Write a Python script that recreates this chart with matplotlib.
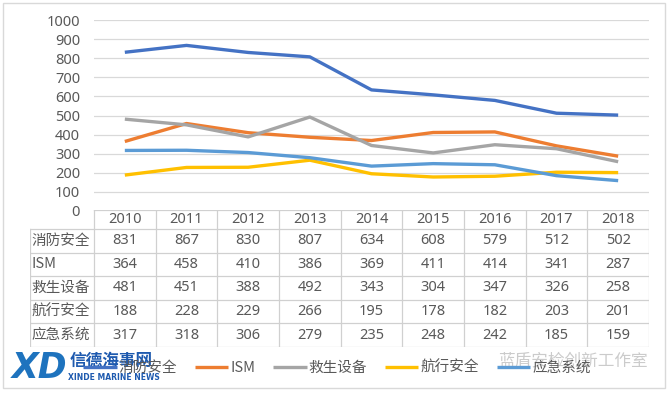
import matplotlib
matplotlib.use("Agg")
import matplotlib.pyplot as plt
from matplotlib.patches import Rectangle
from matplotlib.lines import Line2D

plt.rcParams['font.family'] = ['Noto Sans CJK SC', 'DejaVu Sans']

years = ['2010', '2011', '2012', '2013', '2014', '2015', '2016', '2017', '2018']
series_names = ['消防安全', 'ISM', '救生设备', '航行安全', '应急系统']
fire = [831, 867, 830, 807, 634, 608, 579, 512, 502]
ism = [364, 458, 410, 386, 369, 411, 414, 341, 287]
lifesaving = [481, 451, 388, 492, 343, 304, 347, 326, 258]
navigation = [188, 228, 229, 266, 195, 178, 182, 203, 201]
emergency = [317, 318, 306, 279, 235, 248, 242, 185, 159]
series_values = [fire, ism, lifesaving, navigation, emergency]
colors = ['#4472C4', '#ED7D31', '#A5A5A5', '#FFC000', '#5B9BD5']
yticks = [0, 100, 200, 300, 400, 500, 600, 700, 800, 900, 1000]

W, H = 670, 393
fig = plt.figure(figsize=(W / 100, H / 100), dpi=100)
TXT = '#595959'
GRID = '#D9D9D9'
FS = 10.5
NUMFONT = ['Noto Sans', 'DejaVu Sans']

def fx(px):
    return px / W

def fy(py):
    return 1 - py / H

# outer border
fig.patches.append(Rectangle((fx(3), fy(388)), fx(665) - fx(3), fy(3) - fy(388),
                             transform=fig.transFigure, fill=False,
                             edgecolor='#D9D9D9', lw=1.0))

# main plot
x_left, x_right = 94, 649
ax = fig.add_axes([fx(x_left), fy(211), fx(x_right) - fx(x_left), fy(20) - fy(211)])
n = len(years)
xs = list(range(n))
for name, vals, c in zip(series_names, series_values, colors):
    ax.plot(xs, vals, color=c, lw=2.4, solid_capstyle='butt', label=name)
ax.set_xlim(-0.5, n - 0.5)
ax.set_ylim(0, 1000)
ax.set_yticks(yticks)
ax.set_yticklabels([str(v) for v in yticks], family=NUMFONT)
ax.set_xticks([])
ax.tick_params(axis='y', length=0, pad=10, labelsize=FS, labelcolor=TXT)
for s in ax.spines.values():
    s.set_visible(False)
ax.grid(axis='y', color=GRID, lw=0.9)
ax.set_axisbelow(True)
ax.patch.set_alpha(0)

# data table
label_w = 64 / ((x_right - x_left) / n)
tab = fig.add_axes([fx(30), fy(347), fx(x_right) - fx(30), fy(210) - fy(347)])
hdr = 0.805
nrows = len(series_names)
tab.set_xlim(-0.5 - label_w, n - 0.5)
tab.set_ylim(hdr + nrows, 0)
tab.axis('off')
lc = '#D0D0D0'
lw = 0.9
tab.plot([-0.5, n - 0.5], [0, 0], color=lc, lw=lw)
for k in range(nrows + 1):
    yk = hdr + k
    tab.plot([-0.5 - label_w, n - 0.5], [yk, yk], color=lc, lw=lw)
tab.plot([-0.5 - label_w, -0.5 - label_w], [hdr, hdr + nrows], color=lc, lw=lw)
for i in range(n + 1):
    tab.plot([i - 0.5, i - 0.5], [0, hdr + nrows], color=lc, lw=lw)
for i, yr in enumerate(years):
    tab.text(i, hdr / 2, yr, ha='center', va='center', fontsize=FS, color=TXT,
             family=NUMFONT)
for k, (name, vals) in enumerate(zip(series_names, series_values)):
    yc = hdr + k + 0.5
    tab.text(-0.5 - label_w + 0.03, yc, name, ha='left', va='center', fontsize=FS,
             color=TXT)
    for i, v in enumerate(vals):
        tab.text(i, yc, str(v), ha='center', va='center', fontsize=FS, color=TXT,
                 family=NUMFONT)

# legend
handles = [Line2D([], [], color=c, lw=2.4, solid_capstyle='butt') for c in colors]
leg = fig.legend(handles, series_names, loc='center', ncol=5,
                 bbox_to_anchor=(fx(337), fy(368)), frameon=False,
                 fontsize=FS, handlelength=2.3, handletextpad=0.15,
                 columnspacing=1.2, labelcolor=TXT)

# watermarks (present in the reference image)
fig.text(fx(12), fy(368), 'XD', fontsize=25, fontweight='bold', color='#1E73BE',
         ha='left', va='center', family='DejaVu Sans', style='italic')
fig.text(fx(70), fy(361), '信德海事网', fontsize=12, fontweight='bold', color='#1E5AAF',
         ha='left', va='center')
fig.text(fx(68), fy(377), 'XINDE MARINE NEWS', fontsize=5.5, fontweight='bold',
         color='#1E5AAF', ha='left', va='center', family='DejaVu Sans')
fig.text(fx(498), fy(361), '蓝盾安检创新工作室', fontsize=12, color='#BFBFBF',
         alpha=0.8, ha='left', va='center')

fig.savefig('out.png', dpi=100)
